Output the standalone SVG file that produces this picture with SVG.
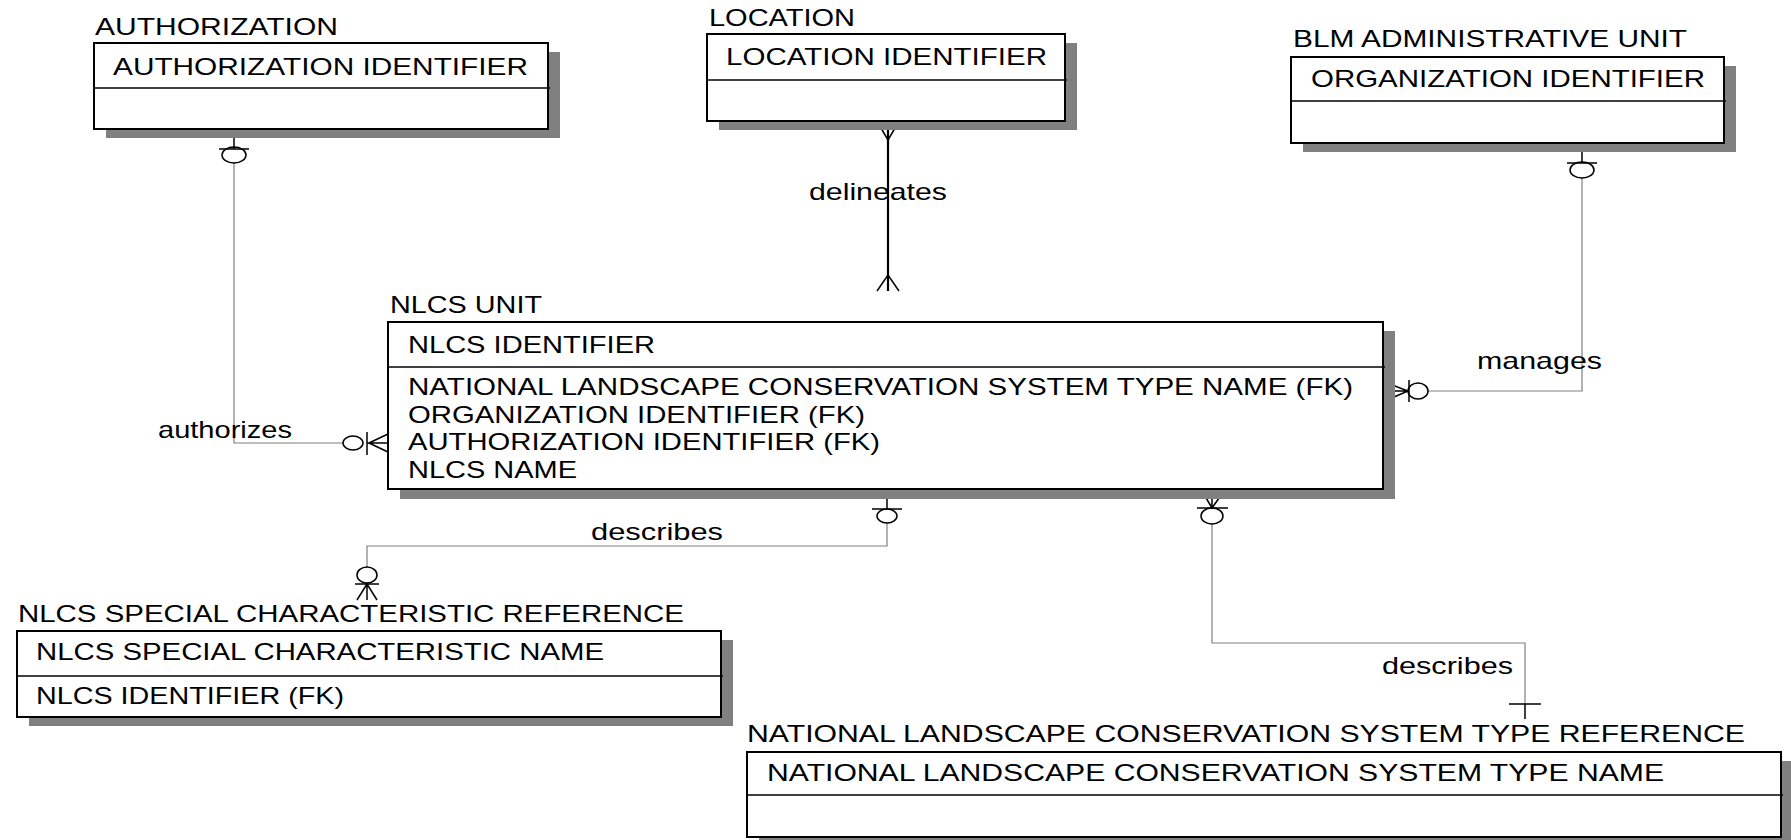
<svg xmlns="http://www.w3.org/2000/svg" width="1791" height="840" viewBox="0 0 1791 840">
<style>
text{font-family:"Liberation Sans",Arial,sans-serif;font-size:24px;fill:#000}
.box{fill:#fff;stroke:#000;stroke-width:2}
.sh{fill:#808080;stroke:none}
.div{stroke:#000;stroke-width:1.5}
.rel{fill:none;stroke:#808080;stroke-width:1.2}
.sym{fill:none;stroke:#000;stroke-width:1.5}
.id{fill:none;stroke:#000;stroke-width:2.2}
</style>
<rect width="1791" height="840" fill="#fff"/>
<g id="connectors">
  <!-- authorizes -->
  <path class="rel" d="M234,163 V443 H343"/>
  <path class="sym" d="M234,129 V149 M219,149 H249"/>
  <ellipse class="sym" cx="234" cy="155" rx="12" ry="8"/>
  <ellipse class="sym" cx="353" cy="443" rx="10" ry="7"/>
  <path class="sym" d="M367,432 V455 M369,443 L388,434 M369,443 L388,452 M367,443 H388"/>
  <text x="158" y="438" textLength="134" lengthAdjust="spacingAndGlyphs">authorizes</text>
  <!-- delineates -->
  <path class="id" d="M888,121 V291"/>
  <path class="sym" d="M878,123 L888,140 L898,123 M877,291 L888,275 L899,291"/>
  <text x="809" y="200" textLength="138" lengthAdjust="spacingAndGlyphs">delineates</text>
  <!-- manages -->
  <path class="rel" d="M1582,178 V391 H1428"/>
  <path class="sym" d="M1582,143 V163 M1567,163 H1597"/>
  <ellipse class="sym" cx="1582" cy="170" rx="12" ry="8"/>
  <ellipse class="sym" cx="1418" cy="391" rx="10" ry="8"/>
  <path class="sym" d="M1409,380 V402 M1387,383 L1408,391 L1387,400 M1387,391 H1408"/>
  <text x="1477" y="369" textLength="125" lengthAdjust="spacingAndGlyphs">manages</text>
  <!-- describes (special characteristic) -->
  <path class="rel" d="M887,523 V546 H367 V567"/>
  <path class="sym" d="M887,489 V509 M872,509 H902"/>
  <ellipse class="sym" cx="887" cy="516" rx="10" ry="7"/>
  <ellipse class="sym" cx="367" cy="575" rx="10" ry="8"/>
  <path class="sym" d="M355,584 H379 M367,584 L357,600 M367,584 L377,600 M367,583 V600"/>
  <text x="591" y="540" textLength="132" lengthAdjust="spacingAndGlyphs">describes</text>
  <!-- describes (type reference) -->
  <path class="rel" d="M1212,524 V643 H1525 V704"/>
  <path class="sym" d="M1202,491 L1212,508 L1224,491 M1212,489 V508 M1197,508 H1228"/>
  <ellipse class="sym" cx="1212" cy="516" rx="11" ry="8"/>
  <path class="sym" d="M1509,704 H1541 M1525,704 V719"/>
  <text x="1382" y="674" textLength="131" lengthAdjust="spacingAndGlyphs">describes</text>
</g>
<g id="authorization">
  <text x="95" y="35" textLength="243" lengthAdjust="spacingAndGlyphs">AUTHORIZATION</text>
  <rect class="sh" x="106" y="52" width="454" height="86"/>
  <rect class="box" x="94" y="43" width="454" height="86"/>
  <line class="div" x1="94" y1="88" x2="550" y2="88"/>
  <text x="113" y="75" textLength="415" lengthAdjust="spacingAndGlyphs">AUTHORIZATION IDENTIFIER</text>
</g>
<g id="location">
  <text x="709" y="26" textLength="146" lengthAdjust="spacingAndGlyphs">LOCATION</text>
  <rect class="sh" x="719" y="43" width="358" height="87"/>
  <rect class="box" x="707" y="34" width="358" height="87"/>
  <line class="div" x1="707" y1="80" x2="1067" y2="80"/>
  <text x="726" y="65" textLength="321" lengthAdjust="spacingAndGlyphs">LOCATION IDENTIFIER</text>
</g>
<g id="blm-administrative-unit">
  <text x="1293" y="47" textLength="394" lengthAdjust="spacingAndGlyphs">BLM ADMINISTRATIVE UNIT</text>
  <rect class="sh" x="1303" y="66" width="433" height="86"/>
  <rect class="box" x="1291" y="57" width="433" height="86"/>
  <line class="div" x1="1291" y1="101" x2="1726" y2="101"/>
  <text x="1311" y="87" textLength="394" lengthAdjust="spacingAndGlyphs">ORGANIZATION IDENTIFIER</text>
</g>
<g id="nlcs-unit">
  <text x="390" y="313" textLength="152" lengthAdjust="spacingAndGlyphs">NLCS UNIT</text>
  <rect class="sh" x="400" y="331" width="995" height="168"/>
  <rect class="box" x="388" y="322" width="995" height="167"/>
  <line class="div" x1="388" y1="367" x2="1385" y2="367"/>
  <text x="408" y="353" textLength="247" lengthAdjust="spacingAndGlyphs">NLCS IDENTIFIER</text>
  <text x="408" y="395" textLength="945" lengthAdjust="spacingAndGlyphs">NATIONAL LANDSCAPE CONSERVATION SYSTEM TYPE NAME (FK)</text>
  <text x="408" y="423" textLength="457" lengthAdjust="spacingAndGlyphs">ORGANIZATION IDENTIFIER (FK)</text>
  <text x="408" y="450" textLength="472" lengthAdjust="spacingAndGlyphs">AUTHORIZATION IDENTIFIER (FK)</text>
  <text x="408" y="478" textLength="169" lengthAdjust="spacingAndGlyphs">NLCS NAME</text>
</g>
<g id="nlcs-special-characteristic-reference">
  <text x="18" y="622" textLength="666" lengthAdjust="spacingAndGlyphs">NLCS SPECIAL CHARACTERISTIC REFERENCE</text>
  <rect class="sh" x="29" y="640" width="704" height="86"/>
  <rect class="box" x="17" y="631" width="704" height="86"/>
  <line class="div" x1="17" y1="676" x2="723" y2="676"/>
  <text x="36" y="660" textLength="568" lengthAdjust="spacingAndGlyphs">NLCS SPECIAL CHARACTERISTIC NAME</text>
  <text x="36" y="704" textLength="308" lengthAdjust="spacingAndGlyphs">NLCS IDENTIFIER (FK)</text>
</g>
<g id="nlcs-type-reference">
  <text x="747" y="742" textLength="998" lengthAdjust="spacingAndGlyphs">NATIONAL LANDSCAPE CONSERVATION SYSTEM TYPE REFERENCE</text>
  <rect class="sh" x="759" y="761" width="1034" height="85"/>
  <rect class="box" x="747" y="752" width="1034" height="85"/>
  <line class="div" x1="747" y1="795" x2="1783" y2="795"/>
  <text x="767" y="781" textLength="897" lengthAdjust="spacingAndGlyphs">NATIONAL LANDSCAPE CONSERVATION SYSTEM TYPE NAME</text>
</g>
</svg>
